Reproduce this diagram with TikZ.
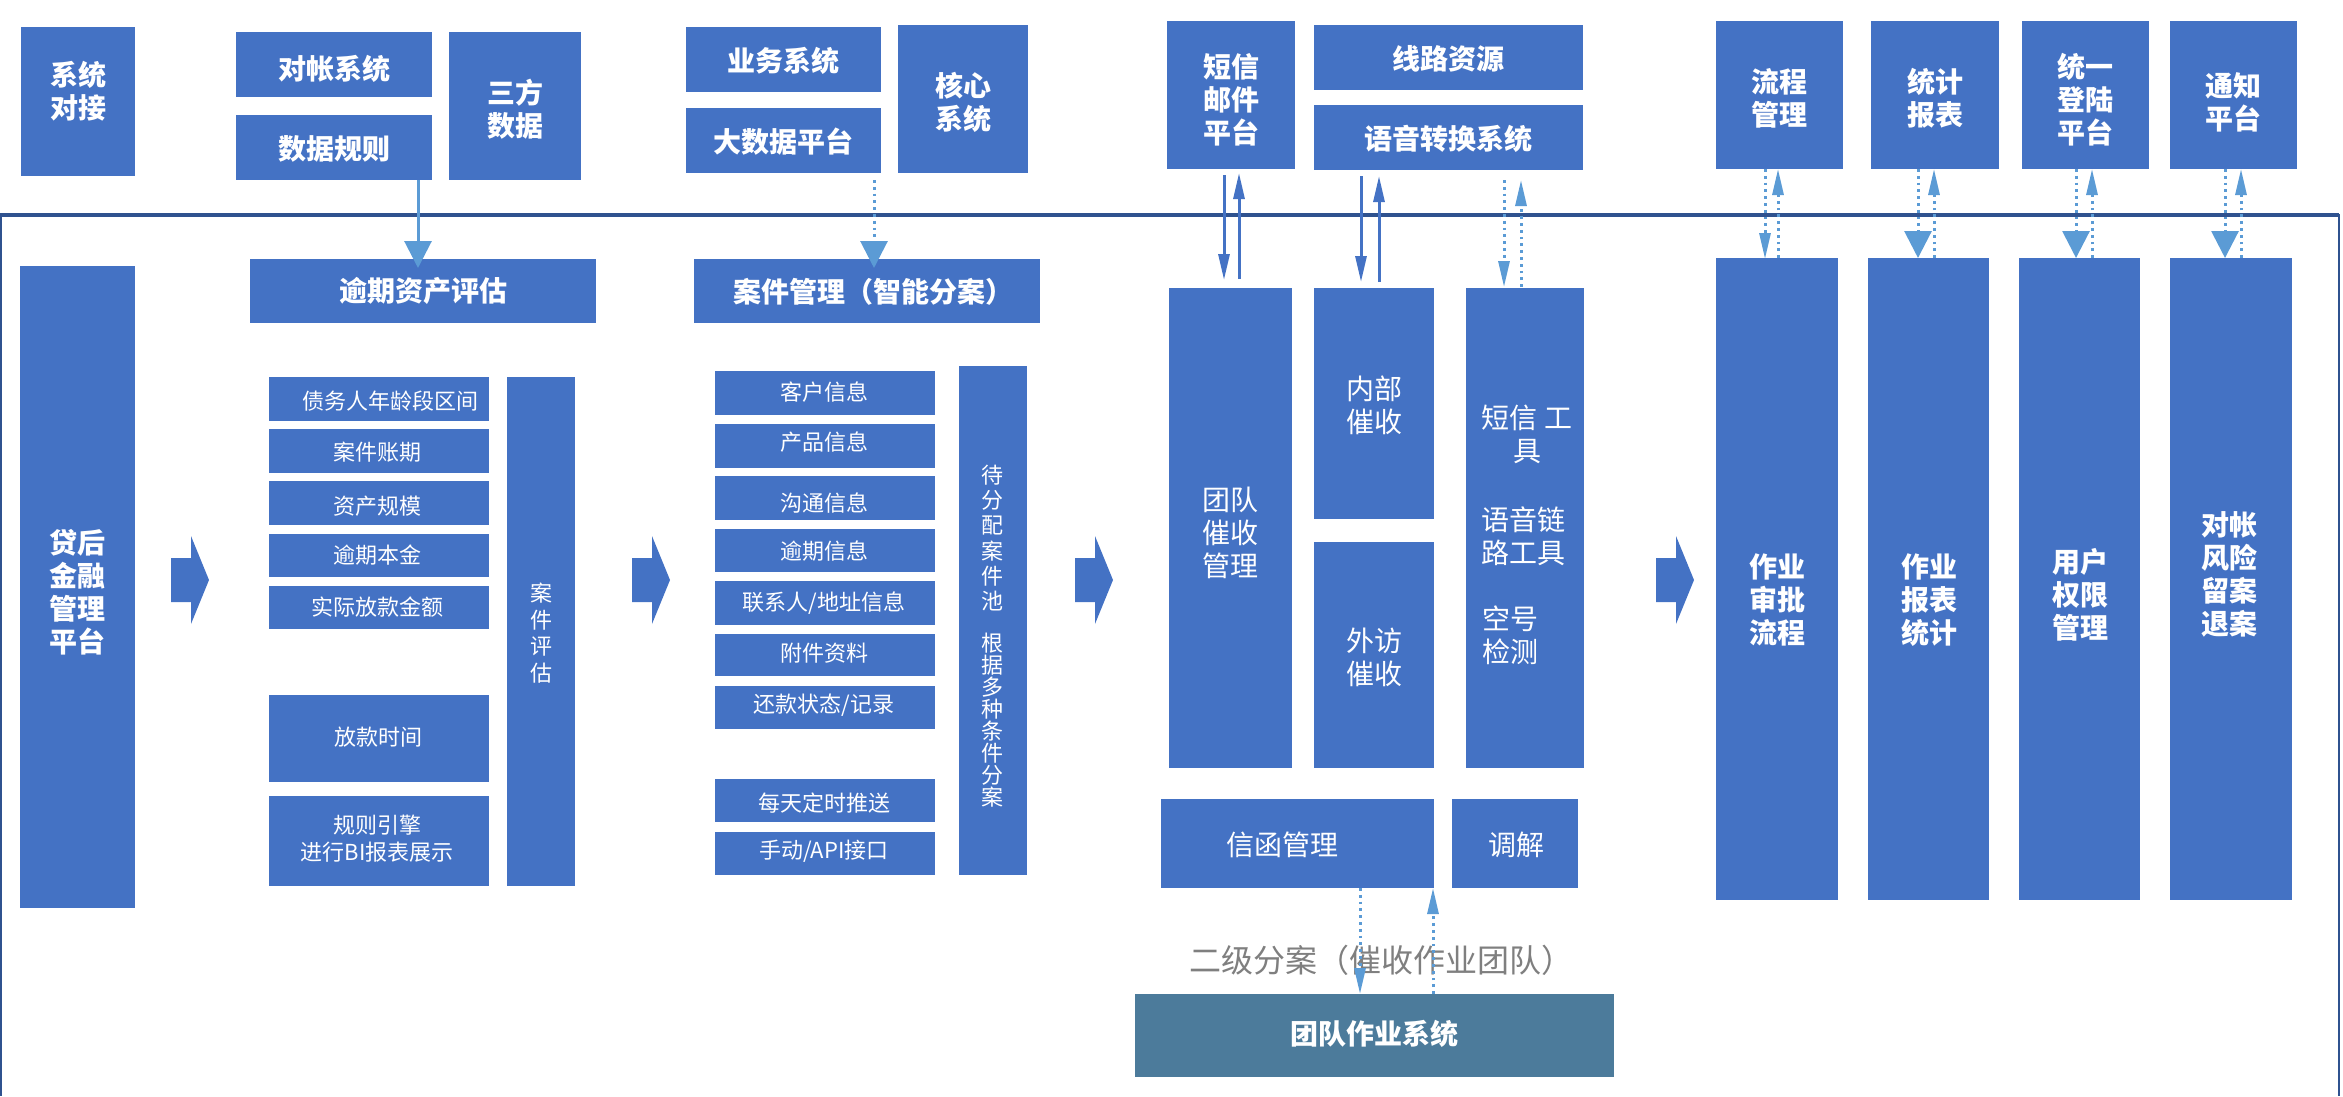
\documentclass[tikz,border=0pt]{standalone}
\usepackage{fontspec}
\newfontfamily\cjk{Noto Sans CJK SC}
\usetikzlibrary{arrows.meta}
\definecolor{boxblue}{HTML}{4472C4}
\definecolor{ltblue}{HTML}{5B9BD5}
\definecolor{frameblue}{HTML}{2F528F}
\definecolor{slate}{HTML}{4C7B9B}
\definecolor{labelgray}{HTML}{7F7F7F}
\tikzset{
  boxshape/.style={fill=boxblue, draw=none, inner sep=0pt, outer sep=0pt},
  tb/.style={text=white, align=center, inner sep=0pt, font=\cjk\bfseries\fontsize{28}{33}\selectfont},
  tr/.style={text=white, align=center, inner sep=0pt, font=\cjk\fontsize{28}{33}\selectfont},
  ts/.style={text=white, align=center, inner sep=0pt, font=\cjk\fontsize{22}{27}\selectfont},
  arrS/.style={draw=boxblue, line width=3pt, -{Triangle[width=11pt,length=26pt]}},
  arrD/.style={draw=ltblue, line width=3pt, dash pattern=on 2.8pt off 4pt, -{Triangle[width=11pt,length=26pt]}},
  arrDB/.style={draw=ltblue, line width=3pt, dash pattern=on 2.8pt off 4pt, -{Triangle[width=27pt,length=27pt]}},
  arrB/.style={draw=ltblue, line width=3pt, -{Triangle[width=27pt,length=27pt]}},
}
% name, x1, y1, x2, y2, text x, text y, text style, text
\newcommand{\mybox}[9]{%
  \pgfmathsetmacro\bw{#4-#2}\pgfmathsetmacro\bh{#5-#3}%
  \pgfmathsetmacro\bcx{(#2+#4)/2}\pgfmathsetmacro\bcy{(#3+#5)/2}%
  \node[boxshape,minimum width=\bw pt,minimum height=\bh pt] (#1) at (\bcx,\bcy) {};
  \node[#8] (#1-t) at (#6,#7) {#9};}
\newcommand{\chev}[1]{\fill[boxblue] (#1,558) -- ++(20,0) -- ++(0,-22) -- ++(18,44) -- ++(-18,44) -- ++(0,-22) -- ++(-20,0) -- cycle;}
% style, from, to, x
\newcommand{\vcon}[4]{\coordinate (tmpx) at (#4,0); \draw[#1] (#2 -| tmpx) -- (#3 -| tmpx);}
\begin{document}
\begin{tikzpicture}[x=1pt,y=-1pt]
\useasboundingbox (0,0) rectangle (2343,1096);
% frame
\draw[frameblue, line width=3.5pt] (0,215) -- (2339,215);
\draw[frameblue, line width=2pt] (2339,214) -- (2339,1096);
\draw[frameblue, line width=2pt] (1,215) -- (1,1096);

% top row
\mybox{sysj}{21}{27}{135}{176}{78}{91}{tb}{系统\\对接}
\mybox{dz}{236}{32}{432}{97}{334}{69}{tb}{对帐系统}
\mybox{sjgz}{236}{115}{432}{180}{334}{149}{tb}{数据规则}
\mybox{sfsj}{449}{32}{581}{180}{515}{109}{tb}{三方\\数据}
\mybox{ywxt}{686}{27}{881}{92}{783.5}{61}{tb}{业务系统}
\mybox{dsj}{686}{108}{881}{173}{783.5}{142}{tb}{大数据平台}
\mybox{hx}{898}{25}{1028}{173}{963}{102}{tb}{核心\\系统}
\mybox{dx}{1167}{21}{1295}{169}{1231}{100}{tb}{短信\\邮件\\平台}
\mybox{xl}{1314}{25}{1583}{90}{1448.5}{59}{tb}{线路资源}
\mybox{yy}{1314}{105}{1583}{170}{1448.5}{139}{tb}{语音转换系统}
\mybox{lc}{1716}{21}{1843}{169}{1779.5}{98}{tb}{流程\\管理}
\mybox{tj}{1871}{21}{1999}{169}{1935}{98}{tb}{统计\\报表}
\mybox{ty}{2022}{21}{2149}{169}{2085.5}{100}{tb}{统一\\登陆\\平台}
\mybox{tz}{2170}{21}{2297}{169}{2233.5}{102}{tb}{通知\\平台}

% left platform
\mybox{dh}{20}{266}{135}{908}{77}{592}{tb}{贷后\\金融\\管理\\平台}

% asset evaluation
\mybox{yqpg}{250}{259}{596}{323}{423}{291}{tb}{逾期资产评估}
\mybox{s1}{269}{377}{489}{421}{390}{401}{ts}{债务人年龄段区间}
\mybox{s2}{269}{429}{489}{473}{377}{452}{ts}{案件账期}
\mybox{s3}{269}{481}{489}{525}{377}{506}{ts}{资产规模}
\mybox{s4}{269}{534}{489}{577}{377}{555}{ts}{逾期本金}
\mybox{s5}{269}{586}{489}{629}{377}{607}{ts}{实际放款金额}
\mybox{s6}{269}{695}{489}{782}{378}{737}{ts}{放款时间}
\mybox{s7}{269}{796}{489}{886}{377}{839}{ts}{规则引擎\\进行BI报表展示}
\mybox{ajpg}{507}{377}{575}{886}{541}{633}{ts, font=\cjk\fontsize{22}{26.7}\selectfont}{案\\件\\评\\估}

% case management
\mybox{ajgl}{694}{259}{1040}{323}{873}{292}{tb}{案件管理（智能分案）}
\mybox{m1}{715}{371}{935}{415}{824}{392}{ts}{客户信息}
\mybox{m2}{715}{424}{935}{468}{824}{442}{ts}{产品信息}
\mybox{m3}{715}{476}{935}{520}{824}{503}{ts}{沟通信息}
\mybox{m4}{715}{529}{935}{572}{824}{551}{ts}{逾期信息}
\mybox{m5}{715}{581}{935}{625}{824}{603}{ts}{联系人/地址信息}
\mybox{m6}{715}{634}{935}{676}{824}{653}{ts}{附件资料}
\mybox{m7}{715}{686}{935}{729}{824}{705}{ts}{还款状态/记录}
\mybox{m8}{715}{779}{935}{822}{824}{803}{ts}{每天定时推送}
\mybox{m9}{715}{832}{935}{875}{824}{851}{ts}{手动/API接口}
\mybox{dfp}{959}{366}{1027}{875}{992}{538}{ts, font=\cjk\fontsize{22}{25.2}\selectfont}{待\\分\\配\\案\\件\\池}
\node[ts, font=\cjk\fontsize{22}{22}\selectfont] (dfp-t2) at (992,720) {根\\据\\多\\种\\条\\件\\分\\案};

% collection
\mybox{tdcs}{1169}{288}{1292}{768}{1230.5}{533}{tr}{团队\\催收\\管理}
\mybox{nbcs}{1314}{288}{1434}{519}{1374}{405}{tr}{内部\\催收}
\mybox{wfcs}{1314}{542}{1434}{768}{1374}{657}{tr}{外访\\催收}
\mybox{dxgj}{1466}{288}{1584}{768}{1527}{434}{tr}{短信 工\\具}
\node[tr] (dxgj-t2) at (1523.5,536) {语音链\\路工具};
\node[tr, align=left, anchor=west] (dxgj-t3) at (1482,635.5) {空号\\检测};
\mybox{xhgl}{1161}{799}{1434}{888}{1282}{845}{tr}{信函管理}
\mybox{tjie}{1452}{799}{1578}{888}{1516}{845}{tr}{调解}
\node[inner sep=0pt, outer sep=0pt, fill=slate, minimum width=479pt, minimum height=83pt] (tdzy) at (1374.5,1035.5) {};
\node[tb] (tdzy-t) at (1374.5,1034) {团队作业系统};
\node[inner sep=0pt, text=labelgray, font=\cjk\fontsize{32}{36}\selectfont] (lbl) at (1381,960) {二级分案（催收作业团队）};

% right column
\mybox{zysp}{1716}{258}{1838}{900}{1777}{600}{tb}{作业\\审批\\流程}
\mybox{zybb}{1868}{258}{1989}{900}{1929}{600}{tb}{作业\\报表\\统计}
\mybox{yhqx}{2019}{258}{2140}{900}{2080}{595}{tb}{用户\\权限\\管理}
\mybox{dzfx}{2170}{258}{2292}{900}{2229}{574}{tb}{对帐\\风险\\留案\\退案}

% chevrons
\chev{171}
\chev{632}
\chev{1075}
\chev{1656}

% connectors
\vcon{arrB, shorten >=-9pt}{sjgz.south}{yqpg.north}{418}
\vcon{arrDB, shorten <=7pt, shorten >=-9pt}{dsj.south}{ajgl.north}{874}
\vcon{arrS, shorten <=6pt, shorten >=8pt}{dx.south}{tdcs.north}{1224}
\vcon{arrS, shorten <=9pt, shorten >=4pt}{tdcs.north}{dx.south}{1239}
\vcon{arrS, shorten <=6pt, shorten >=6pt}{yy.south}{nbcs.north}{1361}
\vcon{arrS, shorten <=6pt, shorten >=6pt}{nbcs.north}{yy.south}{1379}
\vcon{arrD, shorten <=10pt, shorten >=1pt}{yy.south}{dxgj.north}{1504}
\vcon{arrD, shorten <=1pt, shorten >=10pt}{dxgj.north}{yy.south}{1521}
\vcon{arrD, shorten >=-1pt}{lc.south}{zysp.north}{1765}
\vcon{arrD}{zysp.north}{lc.south}{1778}
\vcon{arrDB}{tj.south}{zybb.north}{1918}
\vcon{arrD}{zybb.north}{tj.south}{1934}
\vcon{arrDB}{ty.south}{yhqx.north}{2076}
\vcon{arrD}{yhqx.north}{ty.south}{2092}
\vcon{arrDB}{tz.south}{dzfx.north}{2225}
\vcon{arrD}{dzfx.north}{tz.south}{2241}
\vcon{arrD}{xhgl.south}{tdzy.north}{1360}
\vcon{arrD}{tdzy.north}{xhgl.south}{1433}
\end{tikzpicture}
\end{document}
